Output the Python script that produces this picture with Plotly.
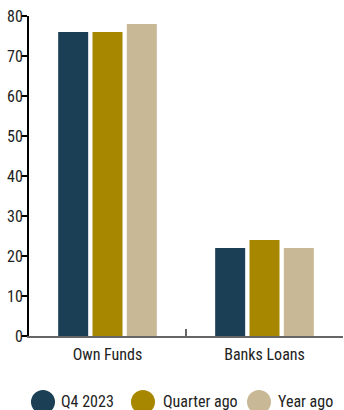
import plotly.graph_objects as go

categories = ["Own Funds", "Banks Loans"]
series_names = ["Q4 2023", "Quarter ago", "Year ago"]
q4_2023 = [76, 22]
quarter_ago = [76, 24]
year_ago = [78, 22]
y_ticks = [0, 10, 20, 30, 40, 50, 60, 70, 80]

colors = ["#1b3f55", "#a88700", "#c9b896"]
font_family = "Roboto Condensed, Liberation Sans Narrow, Arial Narrow, sans-serif"
text_color = "#222222"

fig = go.Figure()
for name, vals, col in zip(series_names, [q4_2023, quarter_ago, year_ago], colors):
    fig.add_trace(go.Bar(name=name, x=categories, y=vals,
                         marker=dict(color=col, line=dict(width=0)),
                         showlegend=False))

# Custom legend: large circular swatches with labels beneath the plot
legend_y = -0.206
swatch_x = [0.0446, 0.363, 0.7325]
label_x = [0.0955, 0.420, 0.787]
for name, col, sx, lx in zip(series_names, colors, swatch_x, label_x):
    fig.add_shape(type="circle", xref="paper", yref="paper",
                  xsizemode="pixel", ysizemode="pixel",
                  xanchor=sx, yanchor=legend_y,
                  x0=-12, x1=12, y0=-12, y1=12,
                  fillcolor=col, line=dict(width=0))
    fig.add_annotation(text=name, xref="paper", yref="paper",
                       x=lx, y=legend_y, xanchor="left", yanchor="middle",
                       showarrow=False,
                       font=dict(family=font_family, size=16, color=text_color))

fig.update_layout(
    width=344, height=410,
    margin=dict(l=29, r=1, t=16, b=74),
    paper_bgcolor="white", plot_bgcolor="white",
    barmode="group", bargap=0.344, bargroupgap=0.126,
    font=dict(family=font_family, size=16, color=text_color),
    xaxis=dict(showline=True, linecolor="#666666", linewidth=2,
               ticks="inside", tickson="boundaries", ticklen=7,
               tickcolor="#666666", tickwidth=1.5, ticklabelstandoff=3,
               showgrid=False, zeroline=False),
    yaxis=dict(range=[0, 80], tickvals=y_ticks, showline=True,
               linecolor="#000000", linewidth=2,
               ticks="outside", ticklen=6, tickcolor="#000000", tickwidth=1.5,
               ticklabelstandoff=-5,
               showgrid=False, zeroline=False),
)

fig.write_html("out.html")
